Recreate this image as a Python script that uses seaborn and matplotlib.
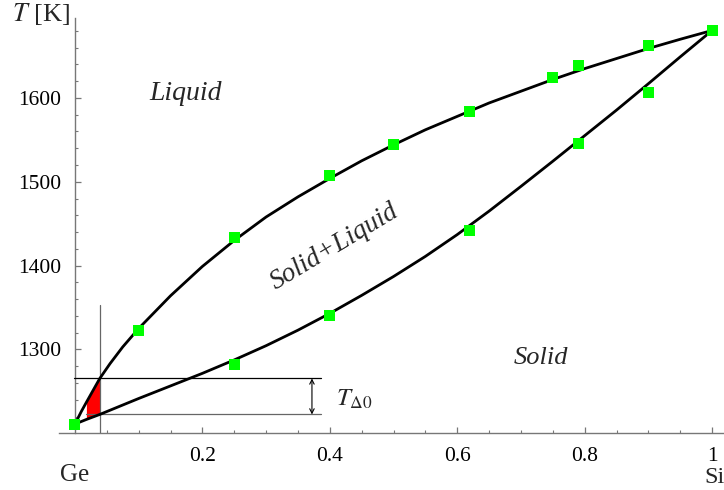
import numpy as np
import pandas as pd
import matplotlib
matplotlib.use("Agg")
import matplotlib.pyplot as plt
import seaborn as sns

# Curve readings (composition x of Si, temperature in K)
liq_x = [0.0, 0.01, 0.018, 0.039, 0.055, 0.075, 0.1, 0.15, 0.2, 0.25, 0.3, 0.35, 0.4, 0.45, 0.5, 0.55, 0.6,
         0.65, 0.7, 0.75, 0.8, 0.85, 0.9, 0.95, 1.0]
liq_T = [1211, 1226, 1237, 1265.4, 1283, 1303, 1325, 1364, 1399, 1430, 1458, 1482, 1504, 1525, 1544, 1562, 1578,
         1594, 1608, 1622, 1635, 1647, 1659, 1670, 1680.5]
sol_x = [0.0, 0.018, 0.039, 0.1, 0.15, 0.2, 0.25, 0.3, 0.35, 0.4, 0.45, 0.5, 0.55, 0.6,
         0.65, 0.7, 0.75, 0.8, 0.85, 0.9, 0.95, 1.0]
sol_T = [1211, 1216.5, 1222.5, 1241.5, 1256.5, 1271.5, 1287.5, 1304.5, 1323, 1343, 1364.5, 1387, 1411, 1437,
         1465, 1494.5, 1524.5, 1555, 1585.5, 1617, 1649, 1680.5]

# Measured data points (green squares)
pts_liq_x = [0.0, 0.1, 0.25, 0.4, 0.5, 0.62, 0.75, 0.79, 0.9, 1.0]
pts_liq_T = [1210, 1323, 1433, 1508, 1544, 1584, 1624, 1639, 1663, 1681]
pts_sol_x = [0.25, 0.4, 0.62, 0.79, 0.9]
pts_sol_T = [1282, 1341, 1442, 1546, 1607]

x_ticks = [0.2, 0.4, 0.6, 0.8, 1.0]
x_ticklabels = ["0.2", "0.4", "0.6", "0.8", "1"]
y_ticks = [1300, 1400, 1500, 1600]

# annotation values
x_cut = 0.039
x_red_left = 0.018
T_up = 1265.4
T_low = 1222.5

sns.set_theme(style="white")
plt.rcParams["font.family"] = ["Liberation Serif", "DejaVu Serif"]
plt.rcParams["mathtext.fontset"] = "stix"

fig = plt.figure(figsize=(7.24, 4.90), dpi=100)
ax = fig.add_axes([59 / 724, (490 - 433.3) / 490, 665 / 724, 415 / 490])

liq = pd.DataFrame({"x": liq_x, "T": liq_T})
sol = pd.DataFrame({"x": sol_x, "T": sol_T})

# red region between curves
m1 = [i for i, v in enumerate(liq_x) if x_red_left <= v <= x_cut]
m2 = [i for i, v in enumerate(sol_x) if x_red_left <= v <= x_cut]
ax.fill_between([liq_x[i] for i in m1], [sol_T[i] for i in m2], [liq_T[i] for i in m1],
                color="#ff0000", lw=0, zorder=2)

# annotation lines
ax.plot([-0.002, 0.386], [T_up, T_up], color="black", lw=0.9, zorder=3)
ax.plot([x_red_left, 0.386], [T_low, T_low], color="#666666", lw=0.9, zorder=3)
ax.plot([x_cut, x_cut], [1200, 1353], color="#666666", lw=0.9, zorder=3)
ax.annotate("", xy=(0.372, T_up), xytext=(0.372, T_low),
            arrowprops=dict(arrowstyle="<->", color="black", lw=0.8,
                            mutation_scale=8, shrinkA=0, shrinkB=0), zorder=3)
ax.text(0.41, 1240, r"$T_{\Delta 0}$", fontsize=18, ha="left", va="center")

sns.lineplot(data=liq, x="x", y="T", sort=False, estimator=None, color="black", lw=2.0, ax=ax, zorder=4)
sns.lineplot(data=sol, x="x", y="T", sort=False, estimator=None, color="black", lw=2.0, ax=ax, zorder=4)

pts = pd.DataFrame({"x": pts_liq_x + pts_sol_x, "T": pts_liq_T + pts_sol_T})
sns.scatterplot(data=pts, x="x", y="T", marker="s", s=62, color="#00ff00", edgecolor="none",
                ax=ax, zorder=5, clip_on=False)

ax.set_xlim(-0.025, 1.0187)
ax.set_ylim(1200, 1695)
ax.set_xlabel("")
ax.set_ylabel("")

for s in ["top", "right"]:
    ax.spines[s].set_visible(False)
ax.spines["left"].set_position(("data", 0))
for s in ["left", "bottom"]:
    ax.spines[s].set_color("#777777")
    ax.spines[s].set_linewidth(1.0)

ax.set_xticks(x_ticks)
ax.set_xticklabels(x_ticklabels)
ax.set_xticks(np.arange(0.05, 1.001, 0.05), minor=True)
ax.set_yticks(y_ticks)
ax.set_yticks(np.arange(1220, 1690, 20), minor=True)
ax.tick_params(axis="both", which="major", direction="in", length=4.5, width=0.9,
               color="#777777", labelsize=15.5, pad=10, labelcolor="black")
ax.tick_params(axis="both", which="minor", direction="in", length=2.5, width=0.8,
               color="#777777")
ax.tick_params(axis="x", which="both", bottom=True, top=False)
ax.tick_params(axis="y", which="both", left=True, right=False)

ax.text(0.0, 1150, "Ge", fontsize=18, ha="center", va="center", clip_on=False)
fig.text(714 / 724, 1 - 477.5 / 490, "Si", fontsize=17.5, ha="center", va="center")
fig.text(12 / 724, 1 - 14 / 490, r"$T$ [K]", fontsize=19, ha="left", va="center")

ax.text(0.173, 1605, "Liquid", fontsize=20, style="italic", ha="center", va="center")
ax.text(0.731, 1290, "Solid", fontsize=19, style="italic", ha="center", va="center")
ax.text(0.408, 1422, "Solid+Liquid", fontsize=19.5, style="italic", ha="center", va="center",
        rotation=31, rotation_mode="anchor")

fig.savefig("out.png", dpi=100)
